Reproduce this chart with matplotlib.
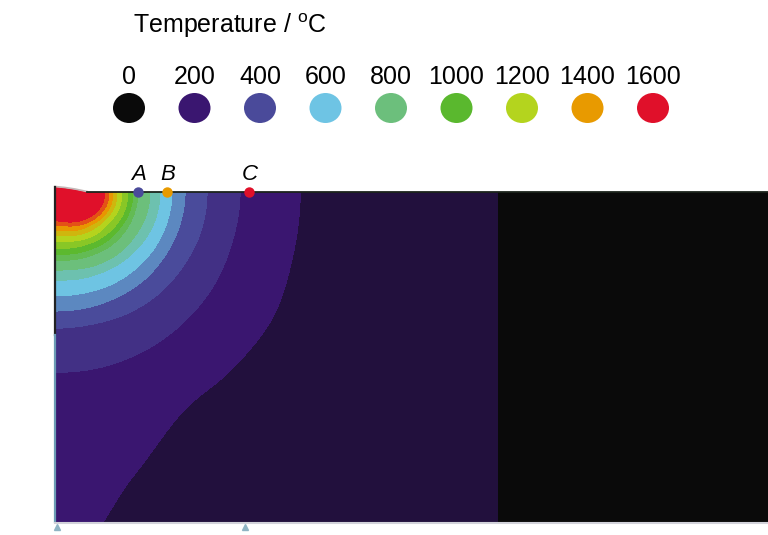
import numpy as np
import matplotlib
matplotlib.use("Agg")
import matplotlib.pyplot as plt
from matplotlib.colors import LinearSegmentedColormap
from matplotlib.patches import Ellipse

plt.rcParams['font.family'] = ['Liberation Sans', 'DejaVu Sans']
plt.rcParams['mathtext.fontset'] = 'custom'
plt.rcParams['mathtext.rm'] = 'Liberation Sans'

# ---------------- data ----------------
legend_temps = [0, 200, 400, 600, 800, 1000, 1200, 1400, 1600]
legend_colors = ['#0a0a0a', '#3a1670', '#4a4a9a', '#6ec4e4', '#6cbf7c',
                 '#5ab82e', '#b4d41e', '#e89a00', '#e0102a']

# isotherm temperatures (contour boundaries) and their distance from the
# heat-source corner read along rays at these angles (0 = surface, 90 = depth)
ray_angles = [0, 15, 30, 45, 60, 75, 90]
iso_temps = [1550, 1450, 1350, 1250, 1150, 1050, 950, 850,
             750, 650, 550, 450, 350, 250, 150, 50]
iso_radii = [
    [50, 49, 45, 40, 35, 31, 29],
    [54, 53, 49, 44, 39, 35, 33],
    [58, 57, 53, 48, 44, 40, 38],
    [62, 61, 57, 53, 49, 45, 43],
    [67, 66, 62, 59, 55, 51, 49],
    [73, 72, 69, 65, 61, 58, 56],
    [78, 77, 74, 71, 67, 64, 62],
    [83, 82, 80, 77, 73, 70, 68],
    [95, 94, 91, 88, 84, 80, 78],
    [105, 104, 101, 97, 93, 90, 88],
    [117, 116, 114, 111, 108, 105, 104],
    [130, 129, 127, 125, 122, 120, 119],
    [152, 151, 148, 145, 141, 137, 136],
    [185, 184, 184, 183, 182, 181, 180],
    [245, 246, 251, 250, 254, 296, 380],
    [443, 458, 511, 625, 882, 1700, 5000],
]
domain_width = 713
domain_depth = 330

point_names = ['A', 'B', 'C']
point_x = [83, 112, 194]
point_colors = ['#4a4a9a', '#e89a00', '#e0102a']

support_x = [2, 190]
surface_x = [0, 10, 20, 32]
surface_bulge = [5.5, 4.5, 3, 0.5]

# ---------------- field ----------------
W, H = 768, 535
fig = plt.figure(figsize=(W / 100, H / 100), dpi=100)
ax = fig.add_axes([55 / W, 13 / H, domain_width / W, domain_depth / H])

x = np.linspace(0, domain_width, domain_width + 2)
y = np.linspace(0, domain_depth, domain_depth + 2)
X, Y = np.meshgrid(x, y)
r = np.hypot(X, Y)
th = np.arctan2(Y, X)
ux, uy = np.cos(th), np.sin(th)
ang = np.radians(ray_angles)


def smooth_curve(radii, n=24):
    """Catmull-Rom curve through the read isotherm points (mirrored at the
    surface and at the symmetry axis so the curve meets them squarely)."""
    radii = np.asarray(radii, dtype=float)
    P = np.column_stack([radii * np.cos(ang), radii * np.sin(ang)])
    P[-1, 0] = 0.0
    P[0, 1] = 0.0
    Q = np.vstack([[P[1, 0], -P[1, 1]], P, [-P[-2, 0], P[-2, 1]]])
    t = np.linspace(0, 1, n, endpoint=False)[:, None]
    out = []
    for i in range(1, len(Q) - 2):
        p0, p1, p2, p3 = Q[i - 1], Q[i], Q[i + 1], Q[i + 2]
        out.append(0.5 * (2 * p1 + (-p0 + p2) * t
                          + (2 * p0 - 5 * p1 + 4 * p2 - p3) * t ** 2
                          + (-p0 + 3 * p1 - 3 * p2 + p3) * t ** 3))
    out.append(P[-1][None, :])
    return np.vstack(out)


def ray_radius(radii):
    D = smooth_curve(radii)
    a = np.arctan2(D[:, 1], D[:, 0])
    a = np.maximum.accumulate(a)
    seg = np.clip(np.searchsorted(a, th, side='right') - 1, 0, len(a) - 2)
    p0x, p0y = D[seg, 0], D[seg, 1]
    dx, dy = D[seg + 1, 0] - p0x, D[seg + 1, 1] - p0y
    den = ux * dy - uy * dx
    den = np.where(np.abs(den) < 1e-9, 1e-9, den)
    return (p0x * dy - p0y * dx) / den


R = np.array([ray_radius(rad) for rad in iso_radii])
Tk = np.array(iso_temps, dtype=float)

T = np.zeros_like(r)
inner = r <= R[0]
T[inner] = Tk[0] + 100 * (1 - r[inner] / R[0][inner])
for k in range(len(Tk) - 1):
    m = (r > R[k]) & (r <= R[k + 1])
    T[m] = Tk[k] + (Tk[k + 1] - Tk[k]) * (r[m] - R[k][m]) / (R[k + 1][m] - R[k][m])
outer = r > R[-1]
T[outer] = np.maximum(Tk[-1] - (r[outer] - R[-1][outer]), -100)

cmap = LinearSegmentedColormap.from_list(
    'temp', list(zip(np.array(legend_temps) / 1600.0, legend_colors)))
band_temps = np.arange(0, 1601, 100)
band_colors = [cmap(t / 1600.0) for t in band_temps]
levels = [-200] + list(np.arange(50, 1551, 100)) + [1800]
ax.contourf(X, Y, T, levels=levels, colors=band_colors, antialiased=False)

ax.set_xlim(0, domain_width)
ax.set_ylim(domain_depth, 0)
ax.axis('off')

# surface bulge near heat source
ax.fill_between(surface_x, 0, -np.array(surface_bulge), color='#e0102a',
                lw=0, clip_on=False)
ax.plot(surface_x, -np.array(surface_bulge), color='#c4b8b8', lw=1.2, clip_on=False)

# boundary lines
ax.plot([surface_x[-1], domain_width], [0, 0], color='#1c241c', lw=1.3, clip_on=False)
ax.plot([0, 0], [-surface_bulge[0], 143], color='#222222', lw=1.6, clip_on=False)
ax.plot([0, 0], [143, domain_depth], color='#6c9cb4', lw=1.6, clip_on=False)
ax.plot([0, domain_width], [domain_depth + 1, domain_depth + 1],
        color='#d2d2da', lw=1.5, clip_on=False)
ax.plot(support_x, [domain_depth + 5] * len(support_x), ls='none', marker='^',
        ms=5, color='#8fb4c4', clip_on=False)

# measurement points
for name, px, c in zip(point_names, point_x, point_colors):
    ax.plot([px], [0], 'o', ms=7.5, color=c, mec='none', clip_on=False, zorder=5)

# overlay for legend and labels
ov = fig.add_axes([0, 0, 1, 1])
ov.set_xlim(0, W)
ov.set_ylim(H, 0)
ov.axis('off')
ov.patch.set_alpha(0)

ov.text(230, 33, 'Temperature / $^{\\mathrm{o}}$C', ha='center', va='baseline',
        fontsize=18)
for i, (t, c) in enumerate(zip(legend_temps, legend_colors)):
    cx = 129 + 65.5 * i
    ov.text(cx, 84, str(t), ha='center', va='baseline', fontsize=18)
    ov.add_patch(Ellipse((cx, 108), 32, 30, color=c, lw=0))

for name, px in zip(point_names, point_x):
    ov.text(55 + px + 1, 180, name, ha='center', va='baseline', fontsize=16,
            style='italic')

fig.savefig('out.png', dpi=100)
